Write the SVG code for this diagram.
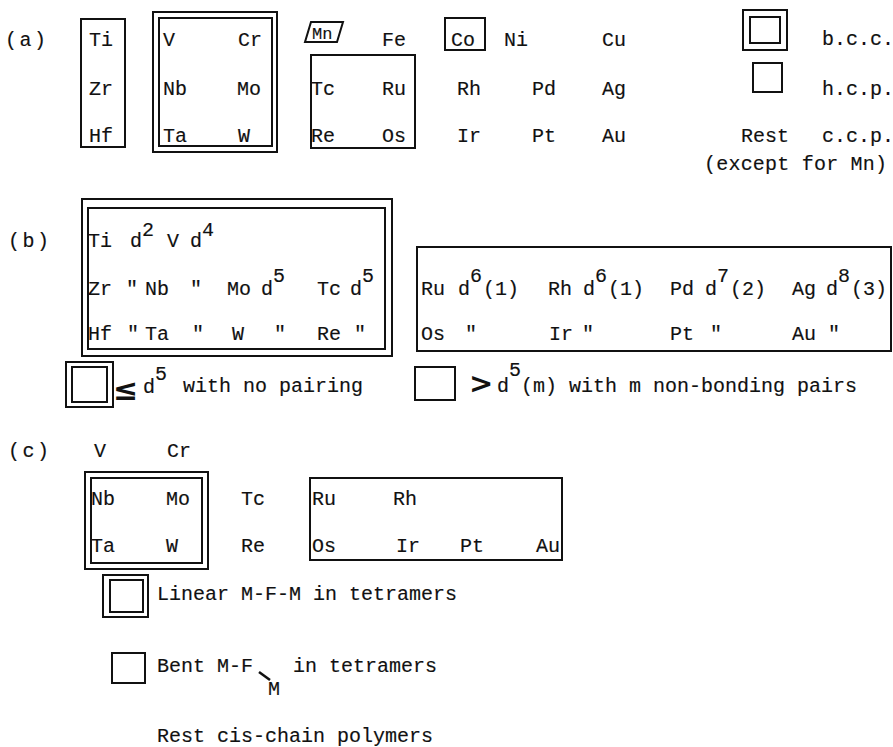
<svg xmlns="http://www.w3.org/2000/svg" width="893" height="747" viewBox="0 0 893 747">
<style>
.t{font-family:"Liberation Mono","DejaVu Sans Mono",monospace;font-size:20px;fill:#111;stroke:#111;stroke-width:0.15}
.b{fill:none;stroke:#111;stroke-width:2}
.sym{font-family:"DejaVu Sans",sans-serif;font-weight:bold;fill:#111}
</style>
<rect width="893" height="747" fill="#fff"/>

<!-- (a) -->
<g id="label-a"><text class="t" x="5" y="46" textLength="41">(a)</text></g>
<g id="a-ti-group">
<rect class="b" x="81" y="19" width="44" height="128"/>
<text class="t" x="89" y="46">Ti</text>
<text class="t" x="89" y="95">Zr</text>
<text class="t" x="89" y="142">Hf</text>
</g>
<g id="a-v-group">
<rect class="b" x="153" y="12" width="124" height="140"/>
<rect class="b" x="159" y="18" width="113" height="128"/>
<text class="t" x="163" y="46">V</text>
<text class="t" x="238" y="46">Cr</text>
<text class="t" x="163" y="95">Nb</text>
<text class="t" x="237" y="95">Mo</text>
<text class="t" x="163" y="142">Ta</text>
<text class="t" x="238" y="142">W</text>
</g>
<g id="a-mn">
<polygon class="b" points="311,22 343,22 337,42 305,42"/>
<text class="t" x="312" y="39" style="font-size:17px">Mn</text>
</g>
<g id="a-fe"><text class="t" x="382" y="46">Fe</text></g>
<g id="a-tc-group">
<rect class="b" x="311" y="55" width="104" height="93"/>
<text class="t" x="311" y="95">Tc</text>
<text class="t" x="382" y="95">Ru</text>
<text class="t" x="311" y="142">Re</text>
<text class="t" x="382" y="142">Os</text>
</g>
<g id="a-co">
<rect class="b" x="445" y="18" width="40" height="32"/>
<text class="t" x="451" y="46">Co</text>
</g>
<g id="a-rest">
<text class="t" x="504" y="46">Ni</text>
<text class="t" x="602" y="46">Cu</text>
<text class="t" x="457" y="95">Rh</text>
<text class="t" x="532" y="95">Pd</text>
<text class="t" x="602" y="95">Ag</text>
<text class="t" x="457" y="142">Ir</text>
<text class="t" x="532" y="142">Pt</text>
<text class="t" x="602" y="142">Au</text>
</g>
<g id="a-legend">
<rect class="b" x="743" y="10" width="44" height="40"/>
<rect class="b" x="750" y="17" width="30" height="26"/>
<text class="t" x="822" y="45">b.c.c.</text>
<rect class="b" x="753" y="63" width="29" height="29"/>
<text class="t" x="822" y="95">h.c.p.</text>
<text class="t" x="741" y="142">Rest</text>
<text class="t" x="822" y="142">c.c.p.</text>
<text class="t" x="704" y="170" textLength="183">(except for Mn)</text>
</g>

<!-- (b) -->
<g id="label-b"><text class="t" x="8" y="247" textLength="41">(b)</text></g>
<g id="b-lowd">
<rect class="b" x="82" y="199" width="310" height="157"/>
<rect class="b" x="88" y="208" width="297" height="141"/>
<text class="t" x="88" y="247">Ti</text>
<text class="t" x="130" y="247">d</text>
<text class="t" x="142" y="236">2</text>
<text class="t" x="167" y="247">V</text>
<text class="t" x="190" y="247">d</text>
<text class="t" x="202" y="236">4</text>
<text class="t" x="88" y="295">Zr</text>
<text class="t" x="126" y="295">"</text>
<text class="t" x="145" y="295">Nb</text>
<text class="t" x="190" y="295">"</text>
<text class="t" x="227" y="295">Mo</text>
<text class="t" x="261" y="295">d</text>
<text class="t" x="273" y="282">5</text>
<text class="t" x="317" y="295">Tc</text>
<text class="t" x="350" y="295">d</text>
<text class="t" x="362" y="282">5</text>
<text class="t" x="88" y="340">Hf</text>
<text class="t" x="127" y="340">"</text>
<text class="t" x="145" y="340">Ta</text>
<text class="t" x="192" y="340">"</text>
<text class="t" x="232" y="340">W</text>
<text class="t" x="274" y="340">"</text>
<text class="t" x="317" y="340">Re</text>
<text class="t" x="354" y="340">"</text>
</g>
<g id="b-highd">
<rect class="b" x="417" y="247" width="474" height="104"/>
<text class="t" x="421" y="295">Ru</text>
<text class="t" x="458" y="295">d</text>
<text class="t" x="470" y="282">6</text>
<text class="t" x="483" y="295">(1)</text>
<text class="t" x="548" y="295">Rh</text>
<text class="t" x="583" y="295">d</text>
<text class="t" x="595" y="282">6</text>
<text class="t" x="608" y="295">(1)</text>
<text class="t" x="670" y="295">Pd</text>
<text class="t" x="705" y="295">d</text>
<text class="t" x="717" y="282">7</text>
<text class="t" x="730" y="295">(2)</text>
<text class="t" x="792" y="295">Ag</text>
<text class="t" x="826" y="295">d</text>
<text class="t" x="838" y="282">8</text>
<text class="t" x="851" y="295">(3)</text>
<text class="t" x="421" y="340">Os</text>
<text class="t" x="465" y="340">"</text>
<text class="t" x="549" y="340">Ir</text>
<text class="t" x="582" y="340">"</text>
<text class="t" x="670" y="340">Pt</text>
<text class="t" x="710" y="340">"</text>
<text class="t" x="792" y="340">Au</text>
<text class="t" x="828" y="340">"</text>
</g>
<g id="b-legend-low">
<rect class="b" x="66" y="362" width="47" height="45"/>
<rect class="b" x="72" y="367" width="35" height="35"/>
<text class="sym" x="113" y="400" font-size="30">≤</text>
<text class="t" x="143" y="393">d</text>
<text class="t" x="155" y="380">5</text>
<text class="t" x="183" y="392">with no pairing</text>
</g>
<g id="b-legend-high">
<rect class="b" x="415" y="367" width="40" height="33"/>
<text class="sym" x="469" y="393" font-size="29">&gt;</text>
<text class="t" x="497" y="392">d</text>
<text class="t" x="509" y="376">5</text>
<text class="t" x="521" y="392" textLength="336">(m) with m non-bonding pairs</text>
</g>

<!-- (c) -->
<g id="label-c"><text class="t" x="8" y="457" textLength="41">(c)</text></g>
<g id="c-top">
<text class="t" x="94" y="457">V</text>
<text class="t" x="167" y="457">Cr</text>
</g>
<g id="c-linear">
<rect class="b" x="85" y="472" width="123" height="97"/>
<rect class="b" x="91" y="478" width="111" height="85"/>
<text class="t" x="91" y="505">Nb</text>
<text class="t" x="166" y="505">Mo</text>
<text class="t" x="91" y="552">Ta</text>
<text class="t" x="166" y="552">W</text>
</g>
<g id="c-tc">
<text class="t" x="241" y="505">Tc</text>
<text class="t" x="241" y="552">Re</text>
</g>
<g id="c-bent">
<rect class="b" x="310" y="478" width="252" height="82"/>
<text class="t" x="312" y="505">Ru</text>
<text class="t" x="393" y="505">Rh</text>
<text class="t" x="312" y="552">Os</text>
<text class="t" x="396" y="552">Ir</text>
<text class="t" x="460" y="552">Pt</text>
<text class="t" x="536" y="552">Au</text>
</g>
<g id="c-legend-linear">
<rect class="b" x="103" y="575" width="45" height="42"/>
<rect class="b" x="110" y="580" width="33" height="32"/>
<text class="t" x="157" y="600">Linear M-F-M in tetramers</text>
</g>
<g id="c-legend-bent">
<rect class="b" x="112" y="653" width="33" height="30"/>
<text class="t" x="157" y="672">Bent M-F</text>
<line x1="259" y1="672" x2="270" y2="680" stroke="#111" stroke-width="2.5"/>
<text class="t" x="268" y="695">M</text>
<text class="t" x="293" y="672">in tetramers</text>
</g>
<g id="c-legend-rest">
<text class="t" x="157" y="742">Rest cis-chain polymers</text>
</g>
</svg>
